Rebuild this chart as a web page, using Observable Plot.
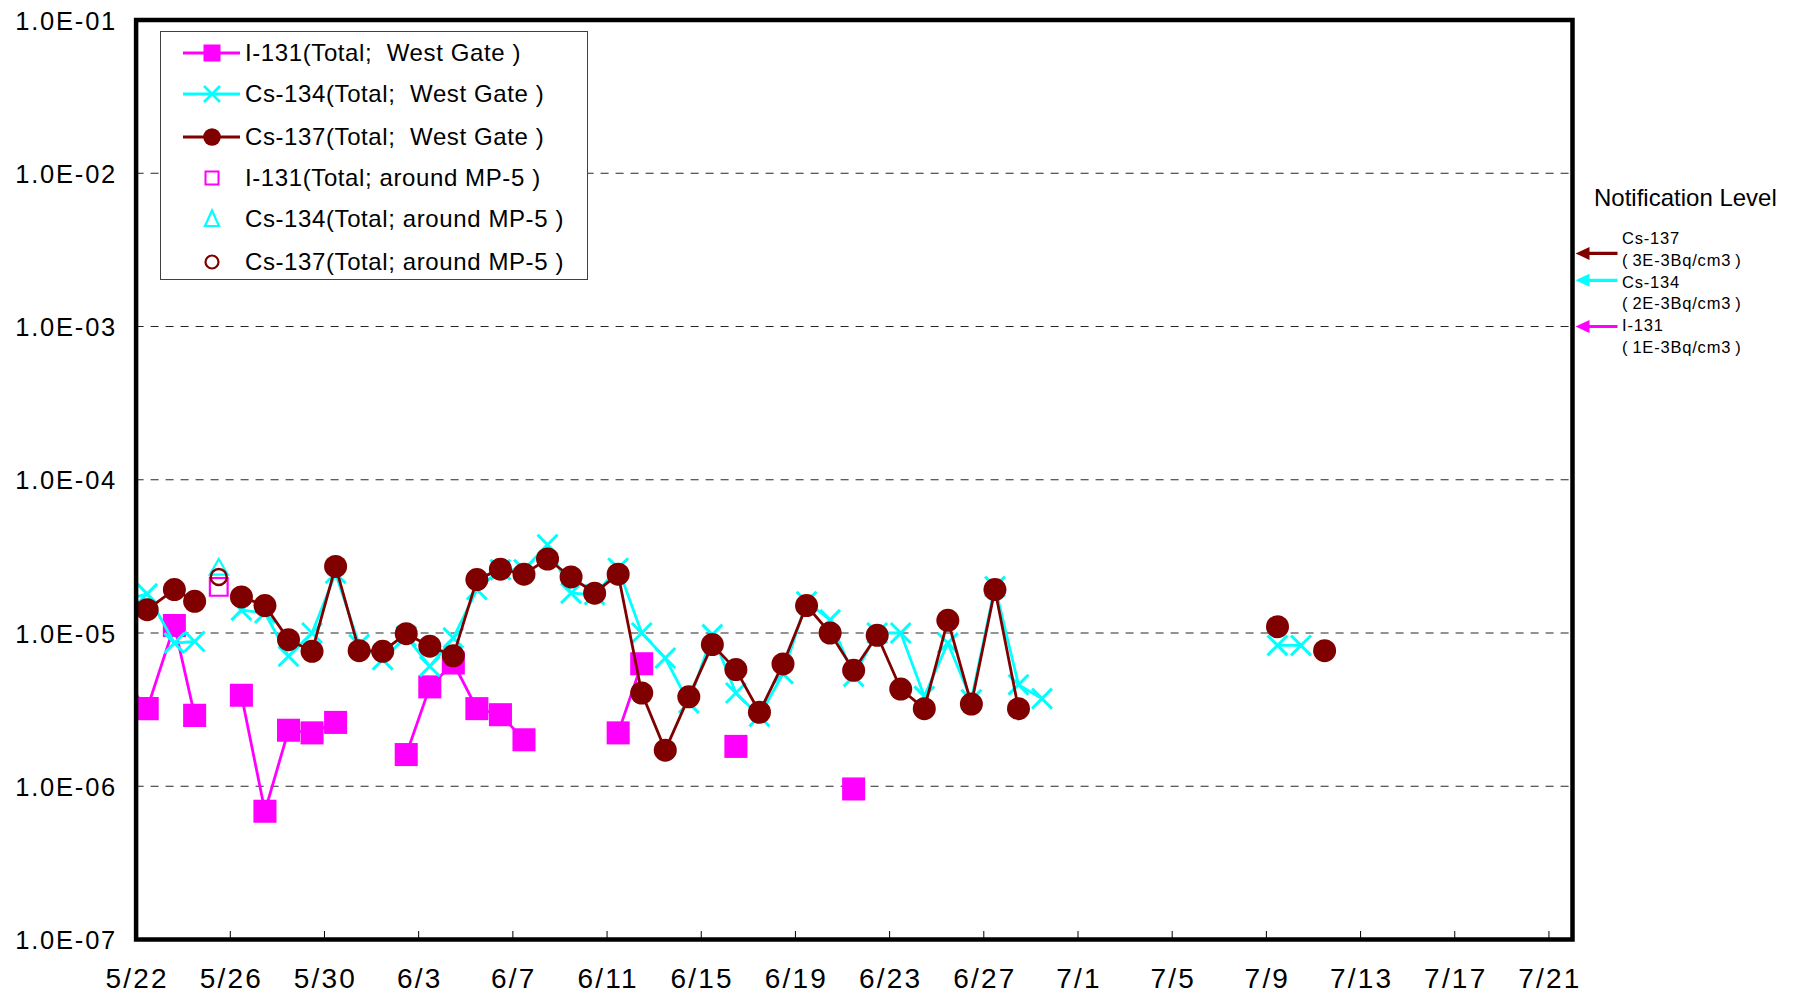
<!DOCTYPE html>
<html>
<head>
<meta charset="utf-8">
<script src="https://cdn.jsdelivr.net/npm/d3@7"></script>
<script src="https://cdn.jsdelivr.net/npm/@observablehq/plot@0.6"></script>
<style>
  body { margin: 0; background: #fff; }
  #wrap { position: relative; width: 1802px; height: 998px; overflow: hidden;
          font-family: "Liberation Sans", Arial, "Noto Sans CJK JP", sans-serif; color: #000; }
  #wrap svg.plot { position: absolute; left: 0; top: 0; }
  .legend { position: absolute; left: 160px; top: 31px; width: 428px; height: 249px;
            border: 1.5px solid #404040; background: #fff; box-sizing: border-box; }
  .lrow { position: absolute; left: 0; height: 40px; width: 425px; }
  .lrow svg { position: absolute; left: 22px; top: 0; }
  .lrow span { position: absolute; left: 84px; top: 0; line-height: 40px; font-size: 24px; letter-spacing: 0.6px; white-space: pre; }
  .ntitle { position: absolute; left: 1594px; top: 183px; font-size: 24px; line-height: 30px; white-space: nowrap; }
  .nlabels { position: absolute; left: 1622px; top: 228px; font-size: 16.5px; line-height: 21.8px; letter-spacing: 0.8px; white-space: pre; }
  svg.plot g[aria-label="x-axis tick label"] text { letter-spacing: 2.2px; }
  svg.plot g[aria-label="y-axis tick label"] text { letter-spacing: 1.8px; }
</style>
</head>
<body>
<div id="wrap"></div>
<script>
// ---------------- data ----------------
const sampleTimes = [
  "2011-05-21T11:20","2011-05-22T11:20","2011-05-23T15:00","2011-05-24T11:40","2011-05-25T11:20",
  "2011-05-26T11:20","2011-05-27T11:20","2011-05-28T11:20","2011-05-29T11:20","2011-05-30T11:20",
  "2011-05-31T11:20","2011-06-01T11:20","2011-06-02T11:20","2011-06-03T11:20","2011-06-04T11:20",
  "2011-06-05T11:20","2011-06-06T11:20","2011-06-07T11:20","2011-06-08T11:20","2011-06-09T11:20",
  "2011-06-10T11:20","2011-06-11T11:20","2011-06-12T11:20","2011-06-13T11:20","2011-06-14T11:20",
  "2011-06-15T11:20","2011-06-16T11:20","2011-06-17T11:20","2011-06-18T11:20","2011-06-19T11:20",
  "2011-06-20T11:20","2011-06-21T11:20","2011-06-22T11:20","2011-06-23T11:20","2011-06-24T11:20",
  "2011-06-25T11:20","2011-06-26T11:20","2011-06-27T11:20","2011-06-28T11:20","2011-06-29T11:20",
  "2011-06-30T11:20","2011-07-09T11:20","2011-07-10T11:20","2011-07-11T11:20"
];
const i131West = [
  5.0e-6, 3.21e-6, 1.12e-5, 2.9e-6, null,
  3.92e-6, 6.87e-7, 2.32e-6, 2.23e-6, 2.61e-6,
  null, null, 1.61e-6, 4.45e-6, 6.37e-6,
  3.21e-6, 2.93e-6, 2.01e-6, null, null,
  null, 2.23e-6, 6.3e-6, null, null,
  null, 1.82e-6, null, null, null,
  null, 9.6e-7, null, null, null,
  null, null, null, null, null,
  null, null, null, null
];
const cs134West = [
  1.63e-5, 1.8e-5, 8.6e-6, 8.8e-6, null,
  1.41e-5, 1.35e-5, 7.05e-6, 1.0e-5, 2.45e-5,
  8.4e-6, 6.7e-6, 9.5e-6, 6.06e-6, 9.3e-6,
  1.92e-5, 2.59e-5, 2.59e-5, 3.77e-5, 1.82e-5,
  1.78e-5, 2.65e-5, 1.0e-5, 6.87e-6, 3.5e-6,
  9.76e-6, 4.06e-6, 2.86e-6, 5.43e-6, 1.6e-5,
  1.22e-5, 5.21e-6, 1.0e-5, 1.0e-5, 3.86e-6,
  8.6e-6, 3.67e-6, 2.01e-5, 4.6e-6, 3.73e-6,
  null, 8.3e-6, 8.3e-6, null
];
const cs137West = [
  1.85e-5, 1.42e-5, 1.92e-5, 1.61e-5, null,
  1.72e-5, 1.51e-5, 9.05e-6, 7.6e-6, 2.72e-5,
  7.67e-6, 7.6e-6, 9.9e-6, 8.2e-6, 7.1e-6,
  2.23e-5, 2.61e-5, 2.42e-5, 3.04e-5, 2.32e-5,
  1.82e-5, 2.42e-5, 4.06e-6, 1.72e-6, 3.83e-6,
  8.4e-6, 5.77e-6, 3.04e-6, 6.28e-6, 1.51e-5,
  1.0e-5, 5.71e-6, 9.66e-6, 4.31e-6, 3.21e-6,
  1.21e-5, 3.44e-6, 1.92e-5, 3.21e-6, null,
  null, 1.1e-5, null, 7.67e-6
];
// around MP-5
const mp5Times = ["2011-05-25T12:15"];
const i131MP5 = [2.0e-5];
const cs134MP5 = [2.6e-5];
const cs137MP5 = [2.32e-5];

// notification levels
const notifNames = ["Cs-137", "Cs-134", "I-131"];
const notifValues = [3e-3, 2e-3, 1e-3];
const notifLimits = ["(\u20093E-3Bq/cm3\u2009)", "(\u20092E-3Bq/cm3\u2009)", "(\u20091E-3Bq/cm3\u2009)"];
const notifColors = ["#800000", "#00FFFF", "#FF00FF"];

// axes
const xTickLabels = ["5/22","5/26","5/30","6/3","6/7","6/11","6/15","6/19","6/23","6/27","7/1","7/5","7/9","7/13","7/17","7/21"];
const xDomain = ["2011-05-22", "2011-07-22"];
const yTickValues = [1e-7, 1e-6, 1e-5, 1e-4, 1e-3, 1e-2, 1e-1];
const yTickLabels = ["1.0E-07","1.0E-06","1.0E-05","1.0E-04","1.0E-03","1.0E-02","1.0E-01"];

const legendItems = [
  "I-131(Total;  West Gate )",
  "Cs-134(Total;  West Gate )",
  "Cs-137(Total;  West Gate )",
  "I-131(Total; around MP-5 )",
  "Cs-134(Total; around MP-5 )",
  "Cs-137(Total; around MP-5 )"
];

// ---------------- build ----------------
const C_I = "#FF00FF", C_134 = "#00FFFF", C_137 = "#800000";
const W = 1802, H = 998, mL = 135.6, mR = 230, mT = 19.5, mB = 59;
const parseT = d3.utcParse("%Y-%m-%dT%H:%M");
const parseD = d3.utcParse("%Y-%m-%d");

const rows = sampleTimes.map((s, i) => ({t: parseT(s), i131: i131West[i], cs134: cs134West[i], cs137: cs137West[i]}));
const mp5 = mp5Times.map((s, i) => ({t: parseT(s), i131: i131MP5[i], cs134: cs134MP5[i], cs137: cs137MP5[i]}));
const xTicks = xTickLabels.map(l => { const [m, d] = l.split("/"); return new Date(Date.UTC(2011, +m - 1, +d)); });
const xLabelOf = new Map(xTicks.map((d, i) => [+d, xTickLabels[i]]));
const yLabelOf = new Map(yTickValues.map((v, i) => [v, yTickLabels[i]]));
const notif = notifValues.map((v, i) => ({v, color: notifColors[i]}));

const arrowSymbol = {
  draw(ctx) {
    ctx.moveTo(0, 0);
    ctx.lineTo(14, -6.5);
    ctx.lineTo(14, -1.6);
    ctx.lineTo(42, -1.6);
    ctx.lineTo(42, 1.6);
    ctx.lineTo(14, 1.6);
    ctx.lineTo(14, 6.5);
    ctx.closePath();
  }
};

const plotH = H - mT - mB;

const chart = Plot.plot({
  width: W, height: H,
  marginLeft: mL, marginRight: mR, marginTop: mT, marginBottom: mB,
  style: {fontFamily: '"Liberation Sans", Arial, "Noto Sans CJK JP", sans-serif', background: "transparent", overflow: "visible"},
  x: {type: "utc", domain: xDomain.map(parseD)},
  y: {type: "log", domain: [1e-7, 1e-1]},
  marks: [
    Plot.gridY(yTickValues, {stroke: "#000", strokeOpacity: 0.85, strokeWidth: 1, strokeDasharray: "8,7"}),
    // I-131 West Gate
    Plot.line(rows, {x: "t", y: "i131", stroke: C_I, strokeWidth: 2.8, clip: true}),
    Plot.dot(rows, {x: "t", y: "i131", symbol: "square", r: 13, fill: C_I, stroke: "none", clip: true}),
    // Cs-134 West Gate
    Plot.line(rows, {x: "t", y: "cs134", stroke: C_134, strokeWidth: 2.8, clip: true}),
    Plot.dot(rows, {x: "t", y: "cs134", symbol: "times", r: 9.1, stroke: C_134, strokeWidth: 3, fill: "none", clip: true}),
    // Cs-137 West Gate
    Plot.line(rows, {x: "t", y: "cs137", stroke: C_137, strokeWidth: 2.8, clip: true}),
    Plot.dot(rows, {x: "t", y: "cs137", symbol: "circle", r: 11.5, fill: C_137, stroke: "none", clip: true}),
    // around MP-5
    Plot.dot(mp5, {x: "t", y: "i131", symbol: "square", r: 10, fill: "none", stroke: C_I, strokeWidth: 2.2}),
    Plot.dot(mp5, {x: "t", y: "cs134", symbol: "triangle", r: 6.7, fill: "none", stroke: C_134, strokeWidth: 2.2}),
    Plot.dot(mp5, {x: "t", y: "cs137", symbol: "circle", r: 8, fill: "none", stroke: C_137, strokeWidth: 2.4}),
    // frame and axes
    Plot.tickX(xTicks, {x: d => d, stroke: "#000", strokeWidth: 1, insetTop: plotH - 8}),
    Plot.frame({stroke: "#000", strokeWidth: 4.5}),
    Plot.axisX(xTicks, {tickSize: 0, tickPadding: 29, fontSize: 28, dx: 1, tickFormat: d => xLabelOf.get(+d), label: null}),
    Plot.axisY(yTickValues, {tickSize: 0, tickPadding: 19, fontSize: 25.5, dy: 1.5, tickFormat: d => yLabelOf.get(d), label: null}),
    // notification level arrows (right of the frame)
    Plot.dot(notif, {y: "v", frameAnchor: "right", dx: 3, symbol: arrowSymbol, r: 5, fill: "color", stroke: "none"})
  ]
});
chart.classList.add("plot");
const wrap = document.getElementById("wrap");
wrap.appendChild(chart);

// legend (inside the plot area)
const legend = document.createElement("div");
legend.className = "legend";
const rowCenters = [20.7, 62.1, 104.6, 146, 187.3, 229.8];
const symDraw = [
  g => { g.append("line").attr("x1", 0).attr("x2", 57).attr("y1", 20).attr("y2", 20).attr("stroke", C_I).attr("stroke-width", 2.8);
         g.append("rect").attr("x", 20.5).attr("y", 11.5).attr("width", 17).attr("height", 17).attr("fill", C_I); },
  g => { g.append("line").attr("x1", 0).attr("x2", 57).attr("y1", 20).attr("y2", 20).attr("stroke", C_134).attr("stroke-width", 2.8);
         g.append("path").attr("d", "M21,12L37,28M21,28L37,12").attr("stroke", C_134).attr("stroke-width", 2.6).attr("fill", "none"); },
  g => { g.append("line").attr("x1", 0).attr("x2", 57).attr("y1", 20).attr("y2", 20).attr("stroke", C_137).attr("stroke-width", 2.8);
         g.append("circle").attr("cx", 29).attr("cy", 20).attr("r", 8.8).attr("fill", C_137); },
  g => { g.append("rect").attr("x", 22.5).attr("y", 13.5).attr("width", 13).attr("height", 13).attr("fill", "none").attr("stroke", C_I).attr("stroke-width", 2); },
  g => { g.append("path").attr("d", "M29,11.5L36,27L22,27Z").attr("fill", "none").attr("stroke", C_134).attr("stroke-width", 2.2); },
  g => { g.append("circle").attr("cx", 29).attr("cy", 20).attr("r", 6.5).attr("fill", "none").attr("stroke", C_137).attr("stroke-width", 2.2); }
];
legendItems.forEach((txt, i) => {
  const row = document.createElement("div");
  row.className = "lrow";
  row.style.top = (rowCenters[i] - 20) + "px";
  const svg = d3.create("svg").attr("width", 60).attr("height", 40);
  symDraw[i](svg.append("g"));
  row.appendChild(svg.node());
  const sp = document.createElement("span");
  sp.textContent = txt;
  row.appendChild(sp);
  legend.appendChild(row);
});
wrap.appendChild(legend);

// notification level texts
const nt = document.createElement("div");
nt.className = "ntitle";
nt.textContent = "Notification Level";
wrap.appendChild(nt);
const nl = document.createElement("div");
nl.className = "nlabels";
notifNames.forEach((n, i) => {
  const a = document.createElement("div"); a.textContent = n; nl.appendChild(a);
  const b = document.createElement("div"); b.textContent = notifLimits[i]; nl.appendChild(b);
});
wrap.appendChild(nl);
</script>
</body>
</html>
